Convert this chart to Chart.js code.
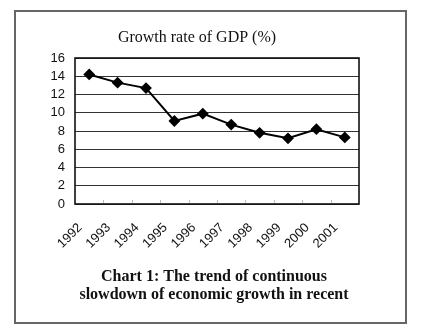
<!DOCTYPE html>
<html>
<head>
<meta charset="utf-8">
<title>Growth rate of GDP</title>
<script src="https://cdn.jsdelivr.net/npm/chart.js@4/dist/chart.umd.min.js"></script>
<style>
  html, body { margin: 0; padding: 0; background: #fff; }
  .frame { position: absolute; left: 14px; top: 10px; width: 389px; height: 310px; border: 2px solid #666; }
  .chart-box { position: absolute; left: 0; top: 0; width: 421px; height: 335px; }
</style>
</head>
<body>
<div class="frame"></div>
<div class="chart-box">
  <canvas id="gdpChart" width="421" height="335"></canvas>
</div>
<script>
const years = ["1992", "1993", "1994", "1995", "1996", "1997", "1998", "1999", "2000", "2001"];
const gdpGrowth = [14.2, 13.3, 12.7, 9.1, 9.9, 8.7, 7.8, 7.2, 8.2, 7.3];
const yTicks = [0, 2, 4, 6, 8, 10, 12, 14, 16];

const chartTitle = "Growth rate of GDP (%)";
const caption = ["Chart 1: The trend of continuous", "slowdown of economic growth in recent"];

// box around the plot plus the small category ticks along the bottom edge
const plotFrame = {
  id: "plotFrame",
  beforeDatasetsDraw(chart) {
    const { ctx, chartArea: a, scales: { x } } = chart;
    ctx.save();
    ctx.strokeStyle = "#bbb";
    ctx.lineWidth = 1;
    const half = (x.getPixelForValue(1) - x.getPixelForValue(0)) / 2;
    for (let i = 0; i < years.length - 1; i++) {
      const px = Math.round(x.getPixelForValue(i) + half) + 0.5;
      ctx.beginPath();
      ctx.moveTo(px, a.bottom - 4);
      ctx.lineTo(px, a.bottom - 1);
      ctx.stroke();
    }
    ctx.strokeStyle = "#111";
    ctx.lineWidth = 1.6;
    ctx.strokeRect(a.left, a.top, a.right - a.left, a.bottom - a.top);
    ctx.restore();
  }
};

// heading above the plot and the caption below the axis labels
const textBlocks = {
  id: "textBlocks",
  afterDraw(chart) {
    const { ctx } = chart;
    ctx.save();
    ctx.fillStyle = "#111";
    ctx.textAlign = "center";
    ctx.textBaseline = "alphabetic";
    ctx.font = "16px 'Liberation Serif', 'Times New Roman', serif";
    ctx.fillText(chartTitle, 197, 42);
    ctx.font = "bold 16px 'Liberation Serif', 'Times New Roman', serif";
    ctx.fillText(caption[0], 214, 281);
    ctx.fillText(caption[1], 214, 299);
    ctx.restore();
  }
};

new Chart(document.getElementById("gdpChart"), {
  type: "line",
  data: {
    labels: years,
    datasets: [{
      label: chartTitle,
      data: gdpGrowth,
      borderColor: "#000",
      borderWidth: 2,
      backgroundColor: "#000",
      pointStyle: "rectRot",
      pointRadius: 4.5,
      tension: 0,
      fill: false
    }]
  },
  options: {
    responsive: false,
    animation: false,
    layout: { padding: { left: 0, right: 62, top: 58, bottom: 0 } },
    plugins: {
      legend: { display: false },
      tooltip: { enabled: false }
    },
    scales: {
      x: {
        offset: true,
        afterFit: (s) => { s.height = 131; },
        grid: { display: false },
        border: { display: false },
        ticks: {
          minRotation: 45,
          maxRotation: 45,
          padding: 8,
          labelOffset: -9,
          color: "#111",
          font: { family: "'Liberation Sans', Arial, sans-serif", size: 13 }
        }
      },
      y: {
        min: 0,
        max: 16,
        afterFit: (s) => { s.width = 75; },
        afterBuildTicks: (s) => { s.ticks = yTicks.map((v) => ({ value: v })); },
        grid: { color: "#333", lineWidth: 1, drawTicks: false },
        border: { display: false },
        ticks: {
          autoSkip: false,
          padding: 10,
          color: "#111",
          font: { family: "'Liberation Sans', Arial, sans-serif", size: 13 }
        }
      }
    }
  },
  plugins: [plotFrame, textBlocks]
});
</script>
</body>
</html>
